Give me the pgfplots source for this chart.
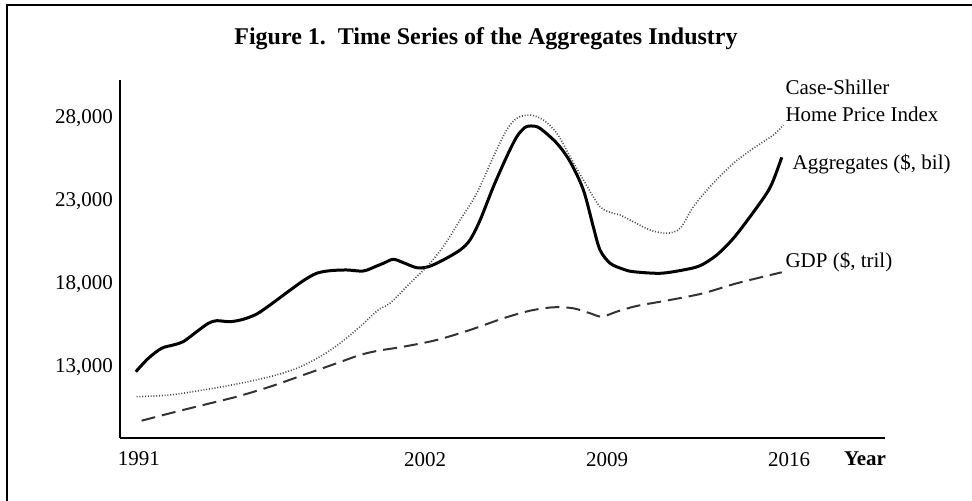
\documentclass[border=0pt]{standalone}
\usepackage{fontspec}
\setmainfont{Liberation Serif}
\usepackage{pgfplots}
\pgfplotsset{compat=1.18}
\pgfplotstableread{
x y
1990.88 12735
1991.36 13542
1991.87 14145
1992.32 14344
1992.70 14542
1993.22 15145
1993.67 15651
1993.99 15807
1994.50 15747
1995.01 15892
1995.53 16211
1996.04 16753
1996.68 17494
1997.32 18217
1997.83 18663
1998.35 18819
1998.99 18862
1999.63 18801
2000.14 19100
2000.40 19265
2000.78 19506
2001.17 19301
2001.68 19000
2002.13 19060
2002.70 19464
2003.35 20066
2003.73 20669
2004.12 21874
2004.63 23880
2005.14 25687
2005.53 26892
2005.85 27458
2006.10 27536
2006.42 27398
2007.07 26494
2007.58 25386
2008.09 23681
2008.47 21470
2008.73 20066
2009.12 19265
2009.63 18904
2010.01 18759
2011.04 18663
2011.93 18862
2012.58 19121
2013.22 19765
2013.86 20771
2014.50 22072
2015.14 23482
2015.40 24283
2015.72 25651
}\aggregates
\pgfplotstableread{
x y
1990.91 11229
1992.19 11332
1993.47 11633
1994.76 11994
1996.04 12434
1997.07 12940
1997.96 13639
1998.73 14446
1999.50 15446
2000.20 16452
2000.65 16856
2001.42 18060
2002.07 19060
2002.70 20265
2003.35 21874
2003.99 23482
2004.63 25687
2005.14 27295
2005.53 28000
2006.04 28199
2006.55 27898
2007.07 27096
2007.58 25687
2008.09 24283
2008.73 22675
2009.24 22277
2009.50 22175
2010.01 21771
2010.65 21271
2011.30 21072
2011.81 21374
2012.32 22675
2012.96 23880
2013.86 25289
2014.63 26193
2015.40 26994
2015.78 27596
}\caseshiller
\pgfplotstableread{
x y
1991.10 9783
1992.19 10229
1993.47 10729
1994.76 11229
1996.04 11831
1997.32 12536
1998.60 13241
1999.50 13741
2000.20 14000
2001.17 14241
2002.45 14645
2003.73 15247
2005.01 15952
2006.04 16410
2006.93 16615
2007.70 16554
2008.35 16253
2008.80 16048
2009.37 16350
2010.14 16693
2011.42 17054
2012.70 17458
2013.99 18060
2015.72 18723
}\gdp
\begin{document}
\begin{tikzpicture}
\useasboundingbox (0,0) rectangle (486pt,250.5pt);
\draw[line width=1.2pt] (3.5pt,0pt) -- (3.5pt,248pt) -- (486pt,248pt);
\node[anchor=base,inner sep=0pt,font=\fontsize{12}{14}\selectfont\bfseries] at (243pt,228pt) {Figure 1.\ \ Time Series of the Aggregates Industry};
\begin{axis}[
  at={(60pt,31.5pt)}, anchor=south west,
  scale only axis, width=382.5pt, height=179pt,
  xmin=1990.27, xmax=2019.69, ymin=8741, ymax=30307,
  axis lines=left, axis line style={line width=1.1pt,-},
  clip=false,
  xtick={1991,2002,2009,2016}, ytick={13000,18000,23000,28000},
  extra x ticks={2018.92}, extra x tick labels={\textbf{Year}},
  major tick length=0pt,
  scaled x ticks=false, scaled y ticks=false,
  /pgf/number format/assume math mode=true,
  x tick label style={/pgf/number format/fixed, /pgf/number format/1000 sep={}, yshift=-3.5pt},
  y tick label style={/pgf/number format/fixed, /pgf/number format/1000 sep={,}},
  tick label style={font=\fontsize{10.5}{12}\selectfont},
]
\addplot[black, line width=1.5pt, smooth, tension=0.5] table {\aggregates};
\addplot[black!70, line width=0.8pt, dash pattern=on 0.5pt off 0.9pt, smooth, tension=0.5] table {\caseshiller};
\addplot[black!80, line width=1pt, dash pattern=on 7pt off 3.5pt, smooth, tension=0.5] table {\gdp};
\node[anchor=base west,inner sep=0pt,font=\fontsize{10.5}{12}\selectfont] at (axis cs:2015.85,29404) {Case-Shiller};
\node[anchor=base west,inner sep=0pt,font=\fontsize{10.5}{12}\selectfont] at (axis cs:2015.85,27777) {Home Price Index};
\node[anchor=base west,inner sep=0pt,font=\fontsize{10.5}{12}\selectfont] at (axis cs:2016.12,24886) {Aggregates (\$, bil)};
\node[anchor=base west,inner sep=0pt,font=\fontsize{10.5}{12}\selectfont] at (axis cs:2015.85,18982) {GDP (\$, tril)};
\end{axis}
\end{tikzpicture}
\end{document}
